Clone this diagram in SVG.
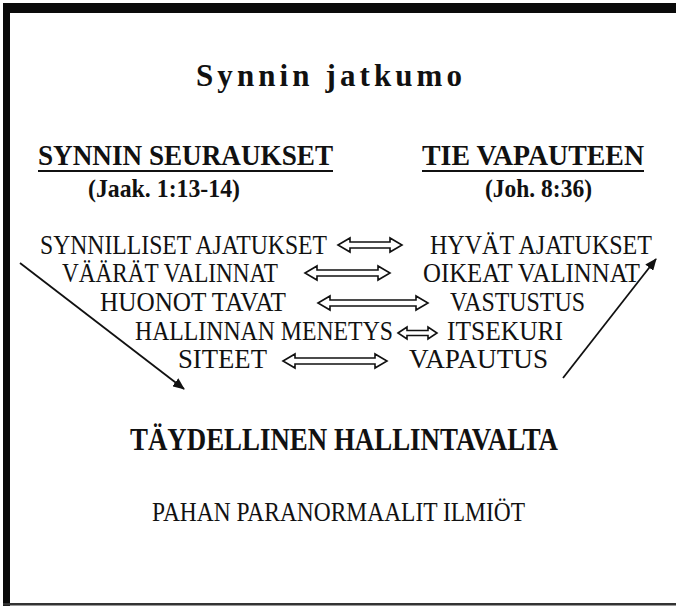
<svg xmlns="http://www.w3.org/2000/svg" width="676" height="607" viewBox="0 0 676 607">
<defs>
<style>
text{font-family:"Liberation Serif","Times New Roman",serif;fill:#111}
.b{font-weight:bold}
.r{font-size:27px}
.h{font-size:29px;font-weight:bold}
.ul{stroke:#111;stroke-width:2.2}
.dbl{fill:#fff;stroke:#111;stroke-width:1.6;stroke-linejoin:miter}
.diag{stroke:#111;stroke-width:1.8;fill:none}
</style>
<marker id="ah" viewBox="0 0 12 10" refX="11" refY="5" markerWidth="12" markerHeight="10" markerUnits="userSpaceOnUse" orient="auto">
<path d="M0 0 L12 5 L0 10 Z" fill="#111"/>
</marker>
</defs>
<rect x="0" y="0" width="676" height="607" fill="#fff"/>
<g id="frame">
<rect x="3" y="3" width="673" height="10" fill="#0a0a0a"/>
<rect x="3" y="3" width="7" height="603" fill="#0a0a0a"/>
<rect x="3" y="603" width="673" height="2.5" fill="#333"/>
</g>
<g id="title">
<text x="196" y="86" class="b" style="font-size:31px" textLength="266" lengthAdjust="spacing">Synnin jatkumo</text>
</g>
<g id="left-header">
<text x="38" y="165" class="h" textLength="295" lengthAdjust="spacingAndGlyphs">SYNNIN SEURAUKSET</text>
<line x1="38" y1="171" x2="333" y2="171" class="ul"/>
<text x="88" y="197" class="b" style="font-size:26px" textLength="152" lengthAdjust="spacingAndGlyphs">(Jaak. 1:13-14)</text>
</g>
<g id="right-header">
<text x="422" y="165" class="h" textLength="222" lengthAdjust="spacingAndGlyphs">TIE VAPAUTEEN</text>
<line x1="422" y1="171" x2="644" y2="171" class="ul"/>
<text x="485" y="197" class="b" style="font-size:26px" textLength="107" lengthAdjust="spacingAndGlyphs">(Joh. 8:36)</text>
</g>
<g id="row1">
<text x="40" y="254" class="r" textLength="287" lengthAdjust="spacingAndGlyphs">SYNNILLISET AJATUKSET</text>
<text x="430" y="254" class="r" textLength="222" lengthAdjust="spacingAndGlyphs">HYVÄT AJATUKSET</text>
</g>
<g id="row2">
<text x="62" y="282" class="r" textLength="216" lengthAdjust="spacingAndGlyphs">VÄÄRÄT VALINNAT</text>
<text x="423" y="282" class="r" textLength="217" lengthAdjust="spacingAndGlyphs">OIKEAT VALINNAT</text>
</g>
<g id="row3">
<text x="100" y="311" class="r" textLength="186" lengthAdjust="spacingAndGlyphs">HUONOT TAVAT</text>
<text x="450" y="311" class="r" textLength="135" lengthAdjust="spacingAndGlyphs">VASTUSTUS</text>
</g>
<g id="row4">
<text x="135" y="340" class="r" textLength="258" lengthAdjust="spacingAndGlyphs">HALLINNAN MENETYS</text>
<text x="447" y="340" class="r" textLength="116" lengthAdjust="spacingAndGlyphs">ITSEKURI</text>
</g>
<g id="row5">
<text x="178" y="368" class="r" textLength="89" lengthAdjust="spacingAndGlyphs">SITEET</text>
<text x="409" y="368" class="r" textLength="139" lengthAdjust="spacingAndGlyphs">VAPAUTUS</text>
</g>
<g id="result">
<text x="130" y="450" class="b" style="font-size:32px" textLength="428" lengthAdjust="spacingAndGlyphs">TÄYDELLINEN HALLINTAVALTA</text>
</g>
<g id="paranormal">
<text x="152" y="521" class="r" textLength="373" lengthAdjust="spacingAndGlyphs">PAHAN PARANORMAALIT ILMIÖT</text>
</g>
<g id="connectors">
<path class="dbl" d="M338 245 L350 238 L350 242 L390 242 L390 238 L402 245 L390 252 L390 248 L350 248 L350 252 Z"/>
<path class="dbl" d="M305 273 L317 266 L317 270 L378 270 L378 266 L390 273 L378 280 L378 276 L317 276 L317 280 Z"/>
<path class="dbl" d="M318 303 L330 296 L330 300 L416 300 L416 296 L428 303 L416 310 L416 306 L330 306 L330 310 Z"/>
<path class="dbl" d="M398 333 L407 327 L407 330.5 L428 330.5 L428 327 L437 333 L428 339 L428 335.5 L407 335.5 L407 339 Z"/>
<path class="dbl" d="M283 361 L295 354 L295 358 L375 358 L375 354 L387 361 L375 368 L375 364 L295 364 L295 368 Z"/>
<line class="diag" x1="20" y1="263" x2="184" y2="389" marker-end="url(#ah)"/>
<line class="diag" x1="563" y1="378" x2="656" y2="259" marker-end="url(#ah)"/>
</g>
</svg>
